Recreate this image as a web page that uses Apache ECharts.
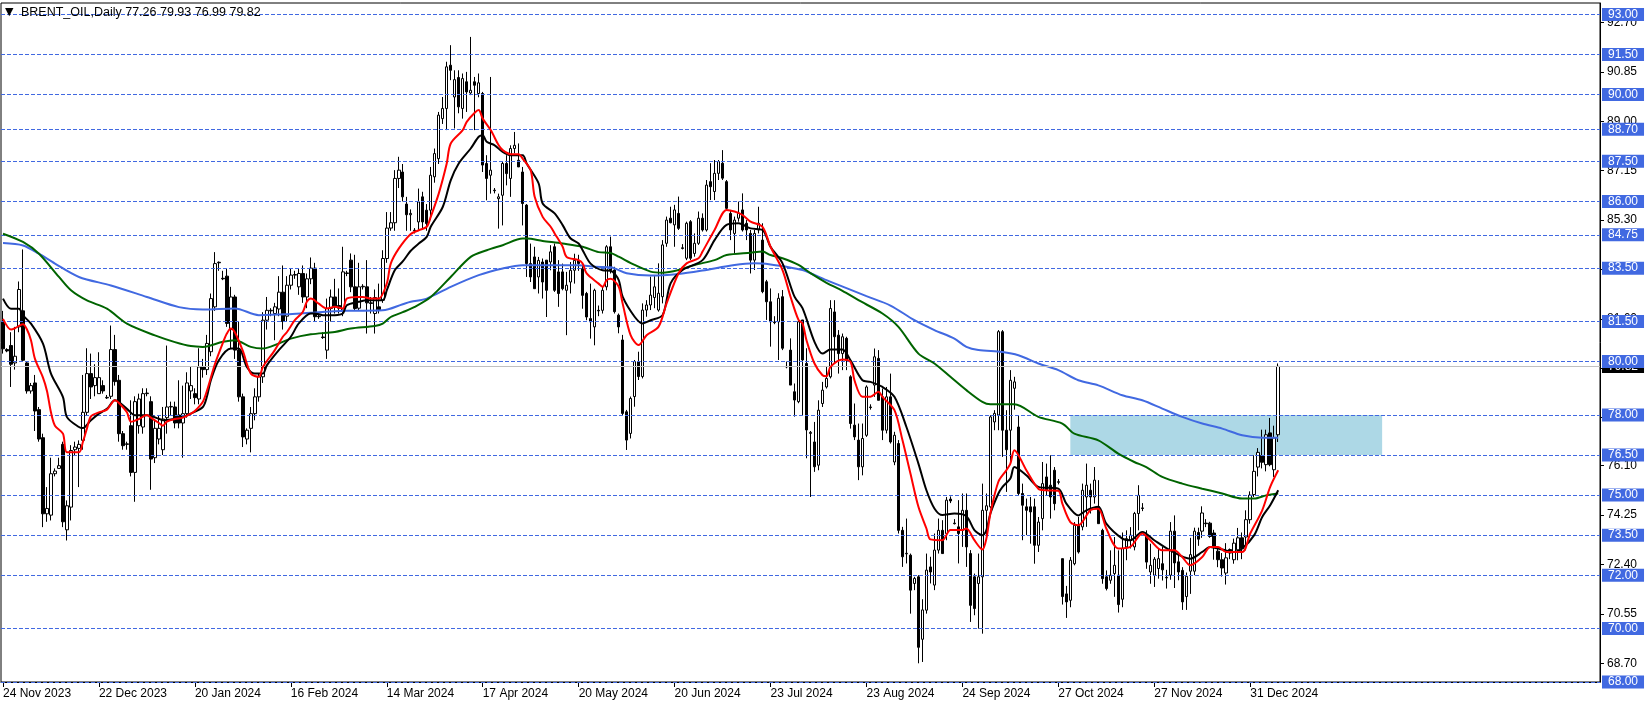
<!DOCTYPE html>
<html>
<head>
<meta charset="utf-8">
<script src="https://cdn.jsdelivr.net/npm/echarts@6/dist/echarts.min.js"></script>
<style>
html,body{margin:0;padding:0;background:#fff;}
#chart{width:1651px;height:706px;}
</style>
</head>
<body>
<div id="chart"></div>
<script>
// ---------- tick labels ----------
const xLabels = ['24 Nov 2023','22 Dec 2023','20 Jan 2024','16 Feb 2024','14 Mar 2024','17 Apr 2024','20 May 2024','20 Jun 2024','23 Jul 2024','23 Aug 2024','24 Sep 2024','27 Oct 2024','27 Nov 2024','31 Dec 2024'];
const yTicks = [68.70,70.55,72.40,74.25,76.10,77.90,79.75,81.60,83.45,85.30,87.15,89.00,90.85,92.70];
const levels = [93.00,91.50,90.00,88.70,87.50,86.00,84.75,83.50,81.50,80.00,78.00,76.50,75.00,73.50,72.00,70.00,68.00];
const lastPrice = 79.82;
const zone = {fromBar: 267, toBar: 345, top: 78.00, bottom: 76.50};
const titleMark = '\u25BC';
const titleText = 'BRENT_OIL,Daily 77.26 79.93 76.99 79.82';

// ---------- daily candles (one entry per bar) ----------
const open = [81.48,80.45,80.6,79.95,81.3,81.9,79.95,78.9,79.2,78.2,
77.15,74.3,74.25,75.8,76.0,76.9,73.7,74.55,76.7,76.75,
77.05,78.1,79.55,79.1,78.8,79.1,78.64,78.7,80.45,79.3,
77.3,76.9,77.6,75.85,77.6,77.55,78.8,78.5,76.4,77.1,
76.7,77.9,78.3,78.3,78.0,77.7,78.05,78.9,78.8,78.6,
79.8,79.7,80.37,82.05,83.72,83.12,83.2,81.2,82.42,80.43,
78.68,77.1,77.5,78.05,78.68,79.43,81.55,81.9,81.8,81.97,
82.6,81.7,82.86,83.24,82.8,83.3,82.42,83.1,83.5,81.7,
80.92,80.43,81.99,82.42,82.1,81.93,83.3,83.8,82.8,82.0,
82.8,82.8,82.2,81.8,82.05,82.3,83.86,85.0,85.2,86.86,
87.1,85.9,85.5,84.92,85.23,86.17,85.67,85.67,86.92,87.6,
89.1,89.48,91.1,89.91,90.64,89.48,90.48,90.06,90.48,90.04,
90.04,87.42,86.98,86.42,86.1,86.23,87.42,86.86,87.98,87.54,
87.1,85.86,83.67,83.92,83.17,83.73,83.8,83.73,84.3,83.36,
83.36,82.67,82.98,83.42,83.79,83.48,82.55,81.61,81.3,81.92,
81.92,82.8,84.3,83.43,81.74,80.81,78.12,77.31,78.69,80.0,
79.44,81.93,82.12,82.4,81.93,82.43,84.43,85.37,85.12,85.55,
84.26,83.87,85.24,84.05,84.43,85.37,84.93,86.74,86.37,87.05,
87.43,86.74,85.55,84.8,85.37,85.68,85.18,84.8,83.8,84.93,
84.55,82.99,82.24,81.48,81.49,82.43,79.82,80.43,78.87,78.5,
81.56,79.93,77.31,76.99,76.12,78.43,79.05,79.43,81.86,80.99,
80.3,80.87,79.43,77.62,77.06,76.06,77.24,78.3,79.12,80.12,
78.68,77.43,78.68,76.24,76.93,73.68,72.8,72.75,71.69,71.94,
69.6,70.69,72.31,71.63,72.94,73.68,73.56,74.85,73.95,73.81,
73.68,74.43,72.81,71.94,71.69,71.94,74.43,74.56,77.74,78.0,
81.12,77.43,77.43,79.0,77.55,75.06,74.56,74.56,74.56,73.12,
74.12,75.68,75.37,75.93,75.5,72.62,71.3,71.06,72.43,73.87,
73.81,74.93,75.18,74.93,74.56,73.68,71.94,71.81,72.06,72.0,
71.1,73.06,73.3,73.06,74.31,74.52,73.49,72.12,72.0,72.25,
72.43,71.92,72.0,73.65,72.5,72.18,71.2,72.15,72.15,73.6,
73.65,73.95,73.95,73.58,72.9,72.58,72.08,72.96,72.58,72.95,
73.4,73.43,74.08,75.02,76.05,76.48,76.14,77.33,75.95,77.26];
const close = [80.48,80.4,79.9,80.2,82.7,80.05,78.9,79.1,78.15,77.1,
74.3,74.5,75.8,75.9,76.1,74.0,74.6,76.67,76.8,76.9,
78.1,79.55,79.05,79.4,79.4,78.9,78.66,80.45,79.25,77.3,
76.85,76.92,75.85,78.5,78.6,78.8,78.82,76.35,77.5,77.5,
77.85,78.3,78.32,77.7,77.7,78.05,79.2,79.1,78.65,79.8,
79.7,80.68,82.36,83.67,83.7,83.1,81.43,82.42,80.43,78.68,
77.18,77.43,78.05,78.68,79.43,81.55,81.92,81.92,82.05,82.6,
81.5,82.86,83.24,83.26,83.3,82.42,83.1,83.5,81.68,81.68,
80.9,81.99,82.42,82.05,82.0,83.36,83.32,82.8,81.99,82.8,
82.82,82.2,82.18,82.4,81.95,83.86,85.0,85.2,86.86,87.17,
86.17,85.5,85.55,84.9,85.98,85.23,85.17,86.98,87.79,89.23,
89.48,91.04,90.91,90.56,89.54,90.6,90.1,90.16,90.35,90.44,
87.36,86.86,87.17,86.4,86.17,87.42,87.04,87.98,88.1,87.29,
85.92,83.67,83.17,82.73,83.79,82.98,82.67,84.11,82.67,82.55,
82.73,82.86,83.42,83.79,83.67,82.48,81.67,81.49,82.67,81.9,
82.67,84.3,83.43,81.87,81.3,78.06,77.06,78.62,80.0,79.44,
81.93,82.12,82.49,82.8,82.56,84.37,85.3,85.2,85.68,84.99,
84.24,85.18,83.87,84.43,85.37,84.93,86.61,86.55,87.05,87.49,
86.87,85.74,84.93,85.3,85.55,84.93,84.93,83.8,84.8,85.18,
82.62,82.24,81.49,81.46,82.37,80.5,79.8,79.12,78.56,81.49,
80.06,77.44,77.35,76.06,78.18,78.93,79.37,81.99,80.93,80.3,
80.93,80.05,77.68,77.18,76.06,77.12,79.05,78.28,80.18,78.55,
77.43,78.68,76.99,77.24,73.68,72.69,72.82,71.44,71.88,69.3,
70.7,72.19,72.12,72.94,73.68,72.81,74.81,74.78,73.93,73.56,
74.43,73.06,70.87,70.75,71.94,74.43,74.6,77.93,78.06,81.12,
77.43,76.7,79.3,79.24,75.06,74.62,74.43,74.37,73.12,73.99,
75.43,75.18,74.93,74.68,75.48,71.2,71.0,72.56,73.87,72.87,
75.18,75.37,74.93,75.56,73.93,71.87,71.5,72.0,72.37,70.9,
73.0,73.37,73.5,74.31,74.99,74.5,72.49,72.37,72.6,72.62,
72.2,71.9,73.65,72.46,72.12,71.0,71.96,72.77,73.65,73.35,
74.33,73.93,73.45,73.08,72.58,72.27,72.65,72.83,73.2,73.4,
73.0,74.08,75.0,75.89,76.6,76.23,77.26,76.14,77.14,79.82];
const low = [80.3,80.35,79.05,79.7,81.1,80.0,78.8,78.8,77.4,77.0,
73.8,74.0,74.05,75.7,76.0,73.8,73.3,74.05,76.5,75.3,
76.7,78.0,78.6,78.7,78.8,78.8,78.6,78.6,79.1,77.0,
76.7,76.7,75.7,74.75,77.3,77.3,78.7,75.2,76.2,76.9,
76.5,77.3,78.0,77.5,77.5,76.4,77.9,78.6,78.4,78.4,
79.4,79.5,80.2,81.9,83.4,83.05,81.3,80.5,80.1,78.5,
76.8,76.9,76.6,77.8,78.5,79.2,81.2,81.7,80.8,81.7,
81.2,81.5,82.7,83.1,82.5,82.2,82.0,82.9,81.5,81.6,
80.85,80.1,81.5,81.8,81.8,81.7,83.2,82.6,81.9,81.9,
82.7,81.05,81.8,81.05,81.8,82.2,83.7,84.9,84.9,86.5,
86.0,84.9,84.9,84.8,84.9,85.0,84.9,85.3,86.7,87.4,
88.9,88.67,90.54,88.73,89.3,89.1,89.35,89.98,88.67,89.9,
87.1,86.04,86.29,86.3,84.98,85.1,86.6,86.17,87.8,87.29,
85.1,83.17,82.98,82.73,82.55,82.36,81.67,83.42,82.61,82.05,
82.67,80.99,82.55,82.92,83.4,81.98,81.55,80.86,80.61,81.7,
81.8,82.67,83.3,81.8,81.06,78.0,76.69,77.12,78.31,79.31,
79.37,81.68,81.93,82.0,81.87,82.18,84.3,85.18,84.3,84.93,
84.2,83.8,83.8,83.93,84.37,84.87,84.87,86.05,86.05,86.8,
86.8,85.68,84.55,84.05,85.24,84.87,84.55,83.3,83.43,84.8,
82.56,81.56,80.56,81.4,80.06,80.43,79.75,79.12,77.94,78.44,
78.0,76.38,74.93,75.87,75.93,78.3,78.99,79.37,79.93,79.55,
79.68,79.68,77.49,77.06,75.56,75.74,77.18,78.2,78.68,78.55,
77.06,77.31,76.93,76.12,73.56,72.31,72.44,70.56,71.44,68.7,
68.75,70.56,71.69,71.44,72.81,72.81,73.31,74.7,73.9,72.44,
73.06,72.31,70.25,70.5,70.0,69.81,73.4,74.5,77.43,77.43,
76.43,75.12,76.24,78.2,74.99,73.31,73.5,73.18,72.43,72.87,
73.68,74.99,74.12,74.43,75.4,70.9,70.4,70.8,72.37,72.81,
73.68,73.81,74.31,74.68,73.93,71.68,71.43,71.68,71.19,70.6,
70.8,72.56,73.0,72.93,73.68,74.4,72.24,71.68,71.56,71.87,
71.8,71.5,71.83,71.52,71.81,70.7,70.7,71.3,72.0,73.1,
73.4,73.8,73.4,72.58,72.3,71.95,71.65,72.6,72.43,72.56,
72.6,72.93,73.93,74.93,75.7,76.0,75.89,76.08,75.68,76.99];
const high = [81.9,80.5,81.1,81.3,83.0,84.2,80.0,79.2,79.5,78.3,
77.3,75.3,76.4,76.0,76.4,77.0,74.8,76.87,77.0,77.05,
79.5,80.5,80.3,79.9,80.35,79.3,78.75,81.35,81.0,79.5,
77.4,77.0,78.55,78.7,78.8,79.0,79.0,78.7,77.8,78.0,
78.3,80.6,78.5,78.5,79.3,79.1,79.6,79.8,79.0,80.5,
80.1,81.0,82.55,84.1,83.75,83.4,83.5,82.8,82.5,81.5,
78.8,77.5,78.3,79.0,79.55,81.85,82.42,82.0,82.2,83.2,
83.6,83.2,83.5,83.4,83.5,83.6,83.3,83.9,83.7,81.8,
81.1,82.36,82.7,83.1,82.74,84.3,83.4,84.05,84.0,83.7,
82.9,83.8,82.42,82.7,82.92,84.17,85.6,85.6,87.17,87.67,
87.4,86.17,85.7,85.0,86.48,86.36,85.9,87.29,87.98,89.35,
89.91,91.23,91.85,90.91,90.91,90.79,90.85,92.16,90.66,90.79,
90.1,87.73,90.66,86.5,86.29,87.48,87.73,88.1,88.6,88.17,
87.29,85.9,84.42,84.3,83.92,83.86,83.8,84.36,84.42,83.8,
83.67,83.36,83.73,84.04,84.0,83.6,82.61,82.92,82.73,82.1,
82.8,84.36,84.68,83.55,81.8,81.0,78.19,78.69,80.06,80.37,
82.18,82.3,83.18,83.2,83.68,84.55,85.43,85.8,85.87,86.18,
84.4,85.24,85.3,84.8,85.62,85.55,86.8,87.43,87.55,87.55,
87.92,86.8,85.68,85.43,85.99,86.3,85.3,84.93,84.93,85.8,
85.18,83.06,82.74,81.7,82.56,82.68,80.0,80.87,79.18,81.56,
81.56,80.5,77.4,77.74,78.55,79.24,79.8,82.3,82.3,81.18,
81.05,80.93,79.49,78.43,77.68,77.68,79.11,78.4,80.49,80.43,
78.99,79.05,79.55,77.37,77.06,73.81,74.12,72.81,71.94,72.0,
71.1,72.81,72.69,73.56,74.12,74.06,74.93,74.95,74.1,74.81,
75.06,75.06,72.94,72.06,72.81,75.43,75.06,77.99,78.18,81.18,
81.18,78.18,79.68,79.43,77.99,75.43,74.87,74.93,74.87,74.18,
76.24,76.18,76.49,76.05,75.6,72.62,71.6,72.68,73.99,74.18,
75.43,76.18,75.43,76.05,75.56,73.74,72.18,72.93,73.43,72.93,
73.6,73.68,73.8,74.37,75.37,74.7,73.68,73.18,72.68,73.0,
73.06,72.2,73.99,74.24,72.81,72.3,72.1,73.4,73.78,73.78,
74.58,74.1,74.0,73.7,73.0,72.83,73.2,73.0,73.37,73.77,
73.6,74.43,75.14,76.49,76.76,77.45,77.45,77.89,77.6,79.93];

// ---------- moving averages: [bar, price] ----------
const maRed = [[0,81.6],[2,81.2],[3,81.25],[5,81.4],[6,81.2],[7,80.8],[8,80.1],[10,79.4],[11,78.9],[12,78.1],[13,77.6],[15,77.3],[16,76.6],[19,76.6],[20,77.0],[21,77.5],[22,77.95],[24,78.1],[26,78.2],[28,78.55],[29,78.45],[31,78.1],[32,77.75],[34,77.85],[36,78.0],[37,77.9],[39,77.7],[40,77.6],[41,77.75],[43,77.85],[45,77.9],[47,78.05],[48,78.15],[50,78.5],[51,78.9],[53,79.9],[55,80.7],[56,81.05],[57,81.24],[58,81.1],[60,80.4],[62,79.55],[64,79.43],[65,79.8],[68,80.43],[70,80.93],[71,81.1],[73,81.55],[75,81.86],[76,82.24],[77,82.36],[79,82.17],[81,81.99],[83,82.05],[85,81.99],[86,82.36],[89,82.42],[90,82.42],[92,82.36],[94,82.36],[96,82.92],[97,83.67],[99,84.23],[102,84.78],[104,84.92],[106,85.05],[107,85.42],[109,86.29],[111,87.42],[112,88.17],[115,88.67],[116,88.98],[118,89.32],[119,89.42],[120,89.1],[122,88.67],[124,88.1],[125,87.92],[127,87.77],[129,87.77],[130,87.6],[132,87.17],[133,86.17],[135,85.42],[137,85.05],[138,84.8],[140,84.3],[141,83.92],[144,83.8],[145,83.67],[146,83.3],[149,82.92],[150,82.8],[151,83.05],[152,83.1],[154,82.81],[155,82.18],[157,80.99],[159,80.62],[161,80.99],[164,81.31],[166,82.18],[169,83.31],[171,83.68],[174,83.87],[175,84.12],[178,84.93],[181,85.68],[183,85.62],[185,85.49],[187,85.24],[190,85.05],[192,84.3],[195,83.43],[197,82.43],[199,81.56],[200,81.43],[201,80.8],[203,79.93],[205,79.49],[206,79.45],[207,79.8],[210,80.08],[212,79.99],[213,79.3],[215,78.68],[217,78.68],[219,78.87],[220,78.68],[223,78.18],[225,77.06],[227,75.81],[229,74.56],[231,73.75],[232,73.34],[235,73.31],[237,73.69],[240,73.69],[241,73.75],[243,73.31],[245,72.96],[246,73.37],[247,74.31],[249,75.5],[251,75.93],[252,76.18],[253,76.68],[256,75.93],[259,75.24],[261,75.18],[264,75.16],[265,74.68],[267,73.99],[269,73.87],[272,74.43],[274,74.49],[276,73.75],[279,73.0],[282,73.06],[285,73.56],[287,73.31],[290,72.93],[293,72.93],[295,72.68],[297,72.37],[300,72.68],[302,73.06],[304,73.06],[306,72.87],[310,72.87],[312,73.56],[315,74.43],[317,75.31],[319,75.93]];
const maBlack = [[0,82.36],[2,81.98],[4,81.98],[5,81.73],[7,81.42],[10,80.67],[12,79.55],[15,78.67],[16,77.92],[19,77.55],[20,77.51],[22,77.8],[24,78.05],[26,78.23],[28,78.55],[31,78.23],[33,77.99],[36,77.99],[39,77.86],[40,77.8],[43,77.86],[45,77.92],[47,78.05],[50,78.3],[51,78.68],[52,79.3],[54,80.05],[57,80.49],[59,80.49],[61,79.8],[63,79.55],[65,79.55],[66,79.86],[69,80.43],[72,80.93],[74,81.43],[77,81.8],[78,81.8],[80,81.74],[83,81.74],[85,81.8],[86,82.11],[89,82.24],[91,82.3],[95,82.3],[96,82.67],[98,83.42],[100,83.75],[102,84.15],[104,84.42],[106,84.67],[107,85.05],[110,85.79],[112,86.79],[114,87.42],[117,87.98],[119,88.42],[120,88.48],[121,88.23],[123,88.1],[125,87.85],[127,87.73],[130,87.73],[131,87.42],[134,86.67],[135,85.92],[138,85.55],[140,85.11],[142,84.61],[144,84.42],[145,84.17],[147,83.67],[150,83.42],[152,83.4],[154,83.06],[155,82.43],[158,81.68],[160,81.43],[162,81.55],[165,81.74],[167,82.93],[170,83.43],[175,83.8],[178,84.55],[181,85.12],[184,85.18],[187,84.99],[190,84.93],[192,84.3],[195,83.68],[198,82.43],[200,82.0],[203,80.74],[205,80.3],[207,80.45],[210,80.45],[212,80.05],[215,79.3],[217,79.24],[220,79.05],[223,78.68],[226,77.55],[229,76.18],[231,75.18],[233,74.5],[235,74.25],[238,74.31],[241,74.21],[243,73.69],[245,73.5],[246,73.69],[247,74.31],[249,75.06],[250,75.3],[252,75.62],[253,76.05],[256,75.74],[259,75.31],[264,75.24],[266,74.68],[269,74.24],[271,74.43],[274,74.56],[276,73.93],[280,73.37],[282,73.31],[285,73.62],[288,73.31],[292,72.93],[297,72.62],[300,72.87],[302,73.06],[305,72.96],[308,72.87],[310,73.0],[313,73.5],[315,74.18],[317,74.62],[319,75.18]];
const maGreen = [[0,84.79],[5,84.48],[9,84.04],[14,83.17],[17,82.67],[21,82.29],[26,81.98],[31,81.42],[38,80.98],[43,80.73],[47,80.58],[50,80.55],[55,80.74],[58,80.8],[62,80.55],[65,80.49],[69,80.68],[72,80.86],[77,81.02],[83,81.11],[87,81.24],[93,81.33],[95,81.42],[97,81.67],[100,81.85],[103,82.05],[107,82.42],[112,83.17],[117,83.92],[121,84.17],[125,84.36],[130,84.61],[131,84.61],[135,84.52],[140,84.42],[145,84.3],[149,84.1],[152,84.07],[154,83.93],[158,83.62],[162,83.37],[165,83.33],[169,83.43],[173,83.62],[178,83.8],[181,83.99],[187,84.08],[190,84.12],[192,83.99],[195,83.87],[199,83.62],[202,83.31],[206,82.95],[210,82.65],[214,82.3],[220,81.8],[224,81.3],[229,80.3],[233,79.93],[237,79.43],[241,78.93],[245,78.49],[247,78.4],[253,78.4],[259,77.93],[265,77.68],[268,77.3],[274,77.05],[279,76.55],[283,76.24],[286,76.05],[290,75.68],[295,75.43],[300,75.24],[305,75.06],[310,74.87],[313,74.87],[316,74.99],[319,75.06]];
const maBlue = [[0,84.44],[5,84.35],[9,84.04],[13,83.67],[19,83.17],[27,82.85],[36,82.42],[44,82.04],[50,81.95],[58,81.99],[64,81.74],[71,81.77],[77,81.83],[86,81.9],[95,81.92],[100,82.15],[102,82.24],[106,82.36],[112,82.8],[119,83.24],[125,83.49],[130,83.61],[133,83.61],[144,83.61],[148,83.55],[152,83.53],[156,83.31],[162,83.22],[169,83.28],[175,83.41],[183,83.62],[188,83.68],[192,83.64],[196,83.55],[200,83.43],[202,83.31],[206,83.05],[211,82.75],[216,82.45],[222,82.1],[228,81.55],[233,81.18],[238,80.86],[241,80.55],[244,80.43],[250,80.36],[254,80.24],[259,79.93],[264,79.68],[269,79.3],[274,79.11],[280,78.74],[285,78.55],[290,78.24],[295,77.93],[300,77.68],[305,77.49],[310,77.24],[315,77.15],[319,77.15]];

// ---------- build chart ----------
const SLOTS = 400;
const cats = [];
for (let i = 0; i < SLOTS; i++) cats.push(String(i));
const candles = open.map((o, i) => [o, close[i], low[i], high[i]]);
const FONT = 'Liberation Sans';
const showTick = (idx) => idx % 24 === 0 && idx / 24 < xLabels.length;

const boxLabel = (bg) => ({
  show: true, position: 'end', distance: 2,
  formatter: (p) => Number(p.value).toFixed(2),
  backgroundColor: bg, color: '#fff', fontFamily: FONT, fontSize: 12,
  lineHeight: 12, padding: [1, 6, 0, 6]
});

const maLine = (name, data, color, z) => ({
  name, type: 'line', data, smooth: 0.3, symbol: 'none', z,
  lineStyle: {color, width: 2}, silent: true
});

const chart = echarts.init(document.getElementById('chart'), null, {renderer: 'canvas'});
chart.setOption({
  animation: false,
  backgroundColor: '#fff',
  grid: {left: 0, right: 51, top: 3, bottom: 24, show: true, borderColor: '#000', borderWidth: 1, backgroundColor: 'transparent'},
  graphic: [
    {type: 'text', left: 5, top: 7, z: 10, style: {text: titleMark, fill: '#000', font: '11px "DejaVu Sans"'}},
    {type: 'text', left: 21, top: 6, z: 10, style: {text: titleText, fill: '#000', font: '12.5px "' + FONT + '"'}}
  ],
  xAxis: {
    type: 'category', data: cats, boundaryGap: true,
    axisLine: {show: true, lineStyle: {color: '#000', width: 1}},
    axisTick: {show: true, interval: (i) => showTick(i), alignWithLabel: true, length: 5, lineStyle: {color: '#000'}},
    axisLabel: {
      interval: (i) => showTick(i),
      formatter: (v, i) => xLabels[Math.round(Number(v) / 24)] || '',
      align: 'left', margin: 6, color: '#000', fontFamily: FONT, fontSize: 12
    },
    splitLine: {show: false}
  },
  yAxis: {
    type: 'value', position: 'right', min: 68, max: 93.43, scale: true,
    axisLine: {show: true, lineStyle: {color: '#000'}},
    axisTick: {show: true, length: 4, customValues: yTicks, lineStyle: {color: '#000'}},
    axisLabel: {customValues: yTicks, formatter: (v) => Number(v).toFixed(2), margin: 7, color: '#000', fontFamily: FONT, fontSize: 12},
    splitLine: {show: false}
  },
  series: [
    {
      name: 'zone', type: 'line', data: [[0, null]], symbol: 'none', z: 1, silent: true,
      markArea: {
        silent: true, itemStyle: {color: '#ADD8E6'},
        data: [[{xAxis: String(zone.fromBar), yAxis: zone.top}, {xAxis: String(zone.toBar), yAxis: zone.bottom}]]
      },
      markLine: {
        silent: true, symbol: 'none', animation: false,
        lineStyle: {color: '#C0C0C0', type: 'solid', width: 1},
        label: boxLabel('#000'),
        data: [{yAxis: lastPrice}]
      }
    },
    {
      name: 'levels', type: 'line', data: [[0, null]], symbol: 'none', z: 2, silent: true,
      markLine: {
        silent: true, symbol: 'none', animation: false,
        lineStyle: {color: '#4169E1', type: [4, 2], width: 1},
        label: boxLabel('#4169E1'),
        data: levels.map((v) => ({yAxis: v}))
      }
    },
    {
      name: 'BRENT_OIL', type: 'candlestick', data: candles, barWidth: 3, z: 3,
      itemStyle: {color: '#fff', color0: '#000', borderColor: '#000', borderColor0: '#000', borderWidth: 1}
    },
    maLine('ma200', maBlue, '#4169E1', 4),
    maLine('ma100', maGreen, '#006400', 5),
    maLine('ma20', maBlack, '#000000', 6),
    maLine('ma10', maRed, '#FF0000', 7)
  ]
});
</script>
</body>
</html>
